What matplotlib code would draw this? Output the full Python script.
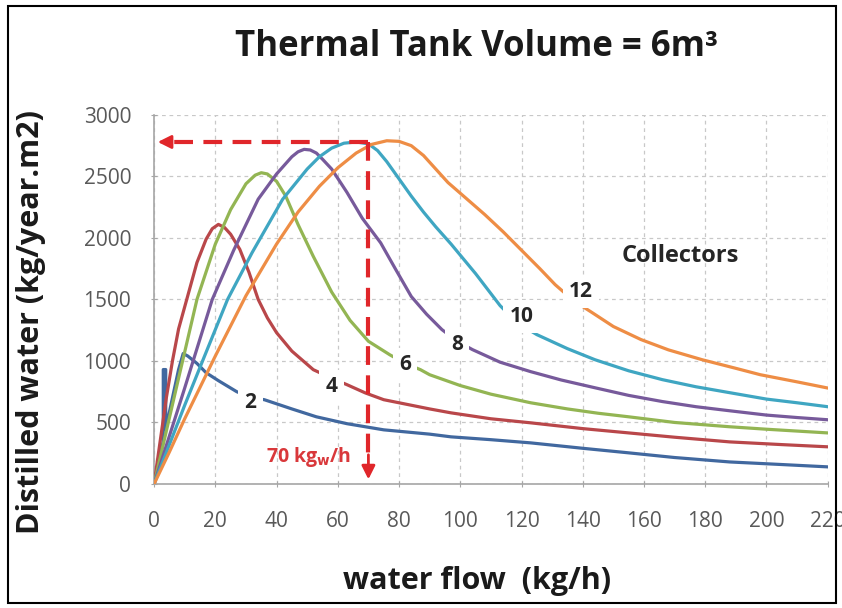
import numpy as np
import matplotlib
matplotlib.use('Agg')
from matplotlib import pyplot as plt
from matplotlib.patches import Rectangle

plt.rcParams['font.family'] = ['Open Sans', 'DejaVu Sans']

# distilled water (kg/year.m2) against water flow (kg/h), one curve per number of collectors
x2 = [0, 3.0, 3.0, 3.8, 3.8, 6, 8, 9.5, 11, 14, 17, 21, 27, 32, 36, 45, 53, 63, 75, 90, 97, 110, 123, 140, 155, 170, 188, 205, 220]
y2 = [0, 350, 930, 930, 445, 700, 930, 1060, 1040, 980, 904, 840, 750, 700, 685, 610, 546, 490, 440, 405, 383, 360, 334, 290, 253, 215, 179, 158, 139]

x4 = [0, 2, 4, 6, 8, 11, 14, 17, 19, 21, 23, 25, 28, 31, 34, 37, 40, 45, 52, 58, 63, 69, 75, 90, 97, 110, 123, 140, 155, 170, 188, 205, 220]
y4 = [0, 350, 700, 1000, 1260, 1530, 1800, 1990, 2075, 2110, 2085, 2030, 1907, 1720, 1500, 1350, 1230, 1080, 929, 860, 807, 740, 685, 610, 578, 530, 497, 450, 415, 380, 342, 320, 302]

x6 = [0, 4, 8, 14, 20, 25, 30, 33, 35, 37, 40, 43, 47, 52, 58, 64, 70, 77, 82, 87, 90, 100, 110, 123, 135, 145, 155, 170, 188, 200, 210, 220]
y6 = [0, 430, 860, 1500, 1950, 2230, 2440, 2510, 2530, 2520, 2460, 2340, 2110, 1850, 1560, 1330, 1160, 1050, 980, 929, 888, 800, 730, 660, 610, 575, 546, 500, 465, 445, 430, 415]

x8 = [0, 5, 10, 19, 26, 34, 40, 45, 47, 49, 51, 53, 55, 58, 63, 68, 74, 79, 84, 89, 94, 99, 104, 113, 123, 133, 144, 155, 166, 177, 188, 200, 210, 220]
y8 = [0, 390, 780, 1500, 1900, 2315, 2520, 2660, 2700, 2720, 2715, 2690, 2640, 2560, 2370, 2160, 1960, 1740, 1524, 1380, 1255, 1160, 1092, 990, 913, 845, 782, 720, 670, 628, 595, 560, 540, 522]

x10 = [0, 5, 10, 16, 24, 32, 42, 50, 54, 58, 62, 66, 70, 73, 76, 80, 84, 88, 92, 97, 101, 105, 109, 113, 117, 121, 125, 135, 144, 155, 166, 177, 188, 200, 210, 220]
y10 = [0, 320, 640, 1010, 1500, 1880, 2315, 2560, 2660, 2730, 2770, 2780, 2765, 2710, 2620, 2480, 2340, 2210, 2090, 1950, 1830, 1710, 1580, 1450, 1350, 1275, 1214, 1100, 1010, 920, 848, 790, 742, 690, 660, 628]

x12 = [0, 5, 10, 20, 30, 40, 47, 54, 60, 66, 71, 76, 80, 84, 88, 92, 96, 102, 108, 114, 120, 126, 131, 137, 143, 150, 159, 168, 179, 190, 198, 210, 220]
y12 = [0, 260, 530, 1040, 1530, 1950, 2210, 2420, 2570, 2690, 2760, 2790, 2785, 2750, 2670, 2560, 2450, 2320, 2190, 2050, 1900, 1750, 1620, 1490, 1394, 1280, 1174, 1090, 1010, 940, 888, 830, 780]

collectors = ['2', '4', '6', '8', '10', '12']
colors = ['#41689f', '#b9474a', '#93b553', '#775a9b', '#3fa6c2', '#ee8d45']
label_x = [31.5, 58, 82, 99, 120, 139.5]
label_y = [660, 790, 970, 1133, 1361, 1565]

flow_opt = 70
yield_opt = 2780

fig = plt.figure(figsize=(8.42, 6.08), dpi=100)
ax = fig.add_axes([0.183, 0.204, 0.8, 0.607])

xs = [x2, x4, x6, x8, x10, x12]
ys = [y2, y4, y6, y8, y10, y12]
for x, y, c in zip(xs, ys, colors):
    ax.plot(x, y, color=c, lw=2.3, solid_joinstyle='round', zorder=3)

for name, lx, ly in zip(collectors, label_x, label_y):
    ax.text(lx, ly, name, ha='center', va='center', fontsize=15, fontweight='bold', color='#262626',
            bbox=dict(boxstyle='square,pad=0.3', fc='white', ec='none'), zorder=4)

ax.text(172, 1850, 'Collectors', ha='center', va='center', fontsize=17, fontweight='bold', color='#262626', zorder=4)

# dashed red guides to the optimum flow
red = '#e0262a'
ax.plot([flow_opt, 4], [yield_opt, yield_opt], color=red, lw=3, dashes=(4.5, 2.5), zorder=5)
ax.plot([flow_opt, flow_opt], [yield_opt, 200], color=red, lw=3, dashes=(4.5, 2.5), zorder=5)
ax.annotate('', xy=(0.3, yield_opt), xytext=(6, yield_opt),
            arrowprops=dict(arrowstyle='-|>', color=red, lw=2, mutation_scale=20), zorder=6)
ax.annotate('', xy=(flow_opt, 15), xytext=(flow_opt, 260),
            arrowprops=dict(arrowstyle='-|>', color=red, lw=2, mutation_scale=20), zorder=6)
ax.text(50.5, 220, r'70 kg$_{\mathbf{w}}$/h', ha='center', va='center', fontsize=14,
        fontweight='bold', color='#d9383b', zorder=6)

ax.set_xlim(0, 220)
ax.set_ylim(0, 3000)
ax.set_xticks(np.arange(0, 221, 20))
ax.set_yticks(np.arange(0, 3001, 500))
ax.grid(True, color='#c8c8c8', linestyle=(0, (3, 3)), lw=0.9)
ax.set_axisbelow(True)
for s in ['top', 'right']:
    ax.spines[s].set_visible(False)
for s in ['left', 'bottom']:
    ax.spines[s].set_color('#a6a6a6')
    ax.spines[s].set_linewidth(1.2)
ax.tick_params(axis='x', direction='inout', length=5, color='#a6a6a6', pad=17, labelsize=15, labelcolor='#595959')
ax.tick_params(axis='y', direction='inout', length=5, color='#a6a6a6', pad=14, labelsize=15, labelcolor='#595959')

ax.set_xlabel('water flow  (kg/h)', fontsize=22, fontweight='bold', color='#1a1a1a')
ax.set_ylabel('Distilled water (kg/year.m2)', fontsize=22, fontweight='bold', color='#1a1a1a')
ax.xaxis.set_label_coords(0.48, -0.222)
ax.yaxis.set_label_coords(-0.16, 0.44)
fig.text(0.566, 0.922, 'Thermal Tank Volume = 6m³', ha='center', va='center', fontsize=25,
         fontweight='bold', color='#1a1a1a')

fig.patches.append(Rectangle((8 / 842, 5 / 608), 828 / 842, 597 / 608, transform=fig.transFigure,
                             fill=False, ec='black', lw=1.5))

fig.savefig('out.png', dpi=100)
